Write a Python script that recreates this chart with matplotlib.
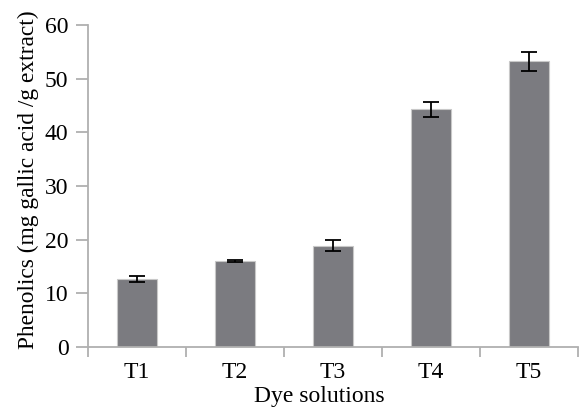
import matplotlib
matplotlib.use('Agg')
import matplotlib.pyplot as plt
import numpy as np

plt.rcParams['font.family'] = ['Liberation Serif', 'DejaVu Serif']

categories = ['T1', 'T2', 'T3', 'T4', 'T5']
phenolics = [12.7, 16.0, 18.9, 44.3, 53.2]
errors = [0.6, 0.2, 1.0, 1.4, 1.8]

fig = plt.figure(figsize=(5.8, 4.07), dpi=100)
ax = fig.add_axes([0.1517, 0.1474, 0.845, 0.7912])

x = np.arange(len(categories))
ax.bar(x, phenolics, width=0.4, color='#7b7b80', edgecolor='#c8c8c8', linewidth=0.8,
       yerr=errors, error_kw=dict(ecolor='black', elinewidth=1.3, capsize=6, capthick=1.3))

ax.set_xlim(-0.5, len(categories) - 0.5)
ax.set_ylim(0, 60)
ax.set_yticks(np.arange(0, 61, 10))
ax.set_xticks(x)
ax.set_xticklabels(categories)
ax.set_xticks(np.arange(-0.5, len(categories), 1), minor=True)

for s in ['top', 'right']:
    ax.spines[s].set_visible(False)
for s in ['left', 'bottom']:
    ax.spines[s].set_color('#b0b0b0')
    ax.spines[s].set_linewidth(1.3)

ax.tick_params(axis='x', which='major', length=0, labelsize=17, pad=11)
ax.tick_params(axis='x', which='minor', length=7, width=1.3, color='#b0b0b0')
ax.tick_params(axis='y', length=8.5, width=1.3, color='#b0b0b0', labelsize=17, pad=5.5)

ax.set_xlabel('Dye solutions', fontsize=17)
ax.set_ylabel('Phenolics (mg gallic acid /g extract)', fontsize=16.8)
ax.xaxis.set_label_coords(0.473, -0.12)
ax.yaxis.set_label_coords(-0.1, 0.52)

fig.savefig('out.png', dpi=100)
